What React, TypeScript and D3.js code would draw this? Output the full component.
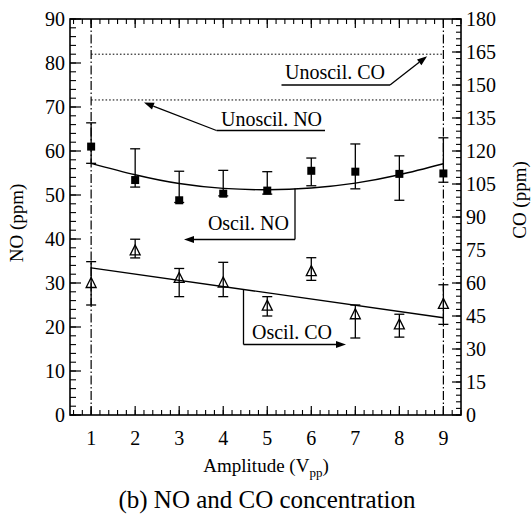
import * as d3 from "d3";

// amplitude (Vpp)
const amplitude = [1, 2, 3, 4, 5, 6, 7, 8, 9];

// NO, ppm (left axis): mean and error bar ends
const noMean = [61.0, 53.4, 48.8, 50.3, 51.0, 55.5, 55.3, 54.8, 54.9];
const noHigh = [66.4, 60.5, 55.4, 55.6, 55.3, 58.4, 61.6, 58.9, 63.0];
const noLow = [57.2, 51.8, 48.3, 49.8, 50.2, 52.1, 51.4, 48.8, 52.9];
// quadratic fit through NO, read at each amplitude
const noFit = [57.2, 54.6, 52.6, 51.5, 51.2, 51.6, 52.7, 54.6, 57.1];

// CO, ppm (right axis)
const coMean = [60.0, 74.8, 62.3, 60.2, 49.7, 65.4, 45.8, 41.2, 50.5];
const coHigh = [69.7, 79.9, 66.6, 69.4, 53.8, 71.5, 50.0, 45.8, 59.2];
const coLow = [50.0, 71.4, 53.8, 53.8, 45.0, 61.2, 35.0, 35.4, 41.2];
// linear fit through CO, ends at amplitude 1 and 9
const coFitX = [1, 9];
const coFit = [66.9, 44.2];

// unoscillated reference levels
const unoscNO = 71.6; // ppm
const unoscCO = 164; // ppm

const xTicks = [1, 2, 3, 4, 5, 6, 7, 8, 9];
const noTicks = [0, 10, 20, 30, 40, 50, 60, 70, 80, 90];
const coTicks = [0, 15, 30, 45, 60, 75, 90, 105, 120, 135, 150, 165, 180];

const W = 531;
const H = 518;
const L = 70, R = 461, T = 19, B = 415;
const FONT = '"Liberation Serif", "DejaVu Serif", "Times New Roman", Times, serif';

const x = d3.scaleLinear().domain([0.52, 9.4]).range([L, R]);
const yNO = d3.scaleLinear().domain([0, 90]).range([B, T]);
const yCO = d3.scaleLinear().domain([0, 180]).range([B, T]);

const xMinor = d3.range(3, 48).map((i) => i * 0.2);
const noMinor = d3.range(0, 46).map((i) => i * 2);
const coMinor = d3.range(0, 61).map((i) => i * 3);

function Arrow({ x1, y1, x2, y2 }: { x1: number; y1: number; x2: number; y2: number }) {
  const a = Math.atan2(y2 - y1, x2 - x1);
  const len = 10, half = 3.6;
  const bx = x2 - len * Math.cos(a), by = y2 - len * Math.sin(a);
  const pts = [
    [x2, y2],
    [bx + half * Math.sin(a), by - half * Math.cos(a)],
    [bx - half * Math.sin(a), by + half * Math.cos(a)],
  ];
  return (
    <g>
      <line x1={x1} y1={y1} x2={bx} y2={by} stroke="#000" strokeWidth={1.3} />
      <polygon points={pts.map((p) => p.join(",")).join(" ")} fill="#000" />
    </g>
  );
}

export default function App() {
  const noLine = d3
    .line<number>()
    .x((_, i) => x(amplitude[i]))
    .y((d) => yNO(d))
    .curve(d3.curveNatural)(noFit);
  const coLine = d3
    .line<number>()
    .x((_, i) => x(coFitX[i]))
    .y((d) => yCO(d))(coFit);

  // bracket positions for the "Oscil." labels, sitting on the fit curves
  const noBracketX = 295;
  const noBracketTop = yNO(d3.scaleLinear().domain(amplitude).range(noFit)(x.invert(noBracketX)));
  const noArrowY = 239.5;
  const coBracketX = 243.5;
  const coBracketTop = yCO(d3.scaleLinear().domain(coFitX).range(coFit)(x.invert(coBracketX)));
  const coArrowY = 344.5;

  return (
    <svg width={W} height={H} style={{ position: "absolute", left: 0, top: 0, background: "#fff", fontFamily: FONT }}>
      <rect width={W} height={H} fill="#fff" />

      {/* minor and major ticks, bottom and top */}
      {xMinor.map((v, i) => (
        <g key={"xm" + i} stroke="#000" strokeWidth={1.1}>
          <line x1={x(v)} x2={x(v)} y1={B} y2={B - 5} />
          <line x1={x(v)} x2={x(v)} y1={T} y2={T + 5} />
        </g>
      ))}
      {xTicks.map((v) => (
        <g key={"xM" + v} stroke="#000" strokeWidth={1.2}>
          <line x1={x(v)} x2={x(v)} y1={B} y2={B - 9} />
          <line x1={x(v)} x2={x(v)} y1={T} y2={T + 9} />
        </g>
      ))}
      {noMinor.map((v) => (
        <line key={"nm" + v} x1={L} x2={L + 6} y1={yNO(v)} y2={yNO(v)} stroke="#000" strokeWidth={1.1} />
      ))}
      {noTicks.map((v) => (
        <line key={"nM" + v} x1={L} x2={L + 11} y1={yNO(v)} y2={yNO(v)} stroke="#000" strokeWidth={1.2} />
      ))}
      {coMinor.map((v) => (
        <line key={"cm" + v} x1={R} x2={R - 5} y1={yCO(v)} y2={yCO(v)} stroke="#000" strokeWidth={1.1} />
      ))}
      {coTicks.map((v) => (
        <line key={"cM" + v} x1={R} x2={R - 9} y1={yCO(v)} y2={yCO(v)} stroke="#000" strokeWidth={1.2} />
      ))}

      <rect x={L} y={T} width={R - L} height={B - T} fill="none" stroke="#000" strokeWidth={1.6} />

      {/* tick labels */}
      {noTicks.map((v) => (
        <text key={"nl" + v} x={L - 5} y={yNO(v)} dy="0.35em" textAnchor="end" fontSize={20}>
          {v}
        </text>
      ))}
      {coTicks.map((v) => (
        <text key={"cl" + v} x={R + 5} y={yCO(v)} dy="0.35em" textAnchor="start" fontSize={20}>
          {v}
        </text>
      ))}
      {xTicks.map((v) => (
        <text key={"xl" + v} x={x(v)} y={B + 23} dy="0.35em" textAnchor="middle" fontSize={20}>
          {v}
        </text>
      ))}

      {/* range markers at amplitude 1 and 9 */}
      {[amplitude[0], amplitude[amplitude.length - 1]].map((v) => (
        <line key={"dd" + v} x1={x(v)} x2={x(v)} y1={T} y2={B} stroke="#000" strokeWidth={1.2} strokeDasharray="9,2.5,1.5,2.5" />
      ))}

      {/* unoscillated levels */}
      <line x1={x(1)} x2={x(9)} y1={yCO(unoscCO)} y2={yCO(unoscCO)} stroke="#000" strokeWidth={1} strokeDasharray="1.6,2" />
      <line x1={x(1)} x2={x(9)} y1={yNO(unoscNO)} y2={yNO(unoscNO)} stroke="#000" strokeWidth={1} strokeDasharray="1.6,2" />

      {/* fits */}
      <path d={noLine ?? ""} fill="none" stroke="#000" strokeWidth={1.4} />
      <path d={coLine ?? ""} fill="none" stroke="#000" strokeWidth={1.4} />

      {/* NO error bars and squares */}
      {amplitude.map((a, i) => (
        <g key={"no" + a} stroke="#000" strokeWidth={1.3}>
          <line x1={x(a)} x2={x(a)} y1={yNO(noLow[i])} y2={yNO(noHigh[i])} />
          <line x1={x(a) - 5} x2={x(a) + 5} y1={yNO(noHigh[i])} y2={yNO(noHigh[i])} />
          <line x1={x(a) - 5} x2={x(a) + 5} y1={yNO(noLow[i])} y2={yNO(noLow[i])} />
          <rect x={x(a) - 4} y={yNO(noMean[i]) - 4} width={8} height={8} fill="#000" stroke="none" />
        </g>
      ))}

      {/* CO error bars and open triangles */}
      {amplitude.map((a, i) => {
        const cx = x(a), cy = yCO(coMean[i]);
        return (
          <g key={"co" + a} stroke="#000" strokeWidth={1.3} fill="none">
            <line x1={cx} x2={cx} y1={yCO(coLow[i])} y2={yCO(coHigh[i])} />
            <line x1={cx - 5} x2={cx + 5} y1={yCO(coHigh[i])} y2={yCO(coHigh[i])} />
            <line x1={cx - 5} x2={cx + 5} y1={yCO(coLow[i])} y2={yCO(coLow[i])} />
            <polygon points={`${cx},${cy - 5.5} ${cx + 5},${cy + 4.5} ${cx - 5},${cy + 4.5}`} />
          </g>
        );
      })}

      {/* annotations */}
      <g fontSize={20}>
        <text x={335} y={78.5} textAnchor="middle">Unoscil. CO</text>
        <line x1={281.5} x2={390} y1={85} y2={85} stroke="#000" strokeWidth={1.3} />
        <Arrow x1={390} y1={85} x2={x(8.63)} y2={yCO(unoscCO) + 2} />

        <text x={271.5} y={126} textAnchor="middle">Unoscil. NO</text>
        <line x1={216.5} x2={325} y1={130.5} y2={130.5} stroke="#000" strokeWidth={1.3} />
        <Arrow x1={216.5} y1={130.5} x2={x(2.2)} y2={yNO(unoscNO) + 2.5} />

        <text x={289} y={229.5} textAnchor="end">Oscil. NO</text>
        <line x1={noBracketX} x2={noBracketX} y1={noBracketTop} y2={noArrowY} stroke="#000" strokeWidth={1.3} />
        <Arrow x1={noBracketX} y1={noArrowY} x2={184} y2={noArrowY} />

        <text x={252} y={338.5} textAnchor="start">Oscil. CO</text>
        <line x1={coBracketX} x2={coBracketX} y1={coBracketTop} y2={coArrowY} stroke="#000" strokeWidth={1.3} />
        <Arrow x1={coBracketX} y1={coArrowY} x2={346} y2={coArrowY} />
      </g>

      {/* axis titles */}
      <text transform={`translate(23,${223}) rotate(-90)`} textAnchor="middle" fontSize={19}>
        NO (ppm)
      </text>
      <text transform={`translate(526,${200}) rotate(-90)`} textAnchor="middle" fontSize={19}>
        CO (ppm)
      </text>
      <text x={266} y={472} textAnchor="middle" fontSize={19}>
        Amplitude (V<tspan fontSize={13} dy={5}>pp</tspan>
        <tspan dy={-5}>)</tspan>
      </text>
      <text x={267} y={508} textAnchor="middle" fontSize={25}>
        (b) NO and CO concentration
      </text>
    </svg>
  );
}
